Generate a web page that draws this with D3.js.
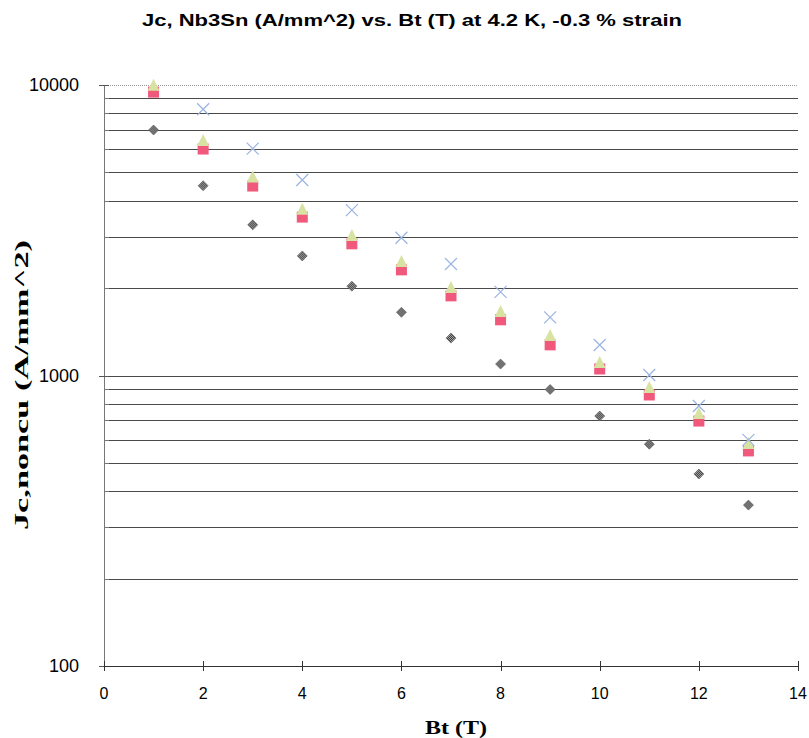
<!DOCTYPE html>
<html>
<head>
<meta charset="utf-8">
<script src="https://cdn.jsdelivr.net/npm/d3@7"></script>
<style>
  body { margin: 0; background: #fff; }
</style>
</head>
<body>
<div id="chart"></div>
<script>
// data
var bt = [1, 2, 3, 4, 5, 6, 7, 8, 9, 10, 11, 12, 13];
var jcDiamond = [7000, 4500, 3300, 2580, 2030, 1650, 1345, 1095, 895, 725, 580, 458, 358];
var jcSquare = [9450, 6020, 4490, 3510, 2840, 2310, 1880, 1555, 1275, 1053, 857, 697, 550];
var jcTriangle = [9950, 6420, 4800, 3720, 3020, 2460, 2000, 1655, 1368, 1104, 906, 737, 581];
var btCross = [2, 3, 4, 5, 6, 7, 8, 9, 10, 11, 12, 13];
var jcCross = [8250, 6040, 4710, 3710, 2980, 2420, 1940, 1586, 1273, 1004, 785, 600];
var xTicks = [0, 2, 4, 6, 8, 10, 12, 14];
var yMajor = [100, 1000, 10000];

var W = 809, H = 738;
var svg = d3.select('#chart').append('svg')
  .attr('width', W)
  .attr('height', H);

var x = d3.scaleLinear().domain([0, 14]).range([104, 798]);
var y = d3.scaleLog().domain([100, 10000]).range([666, 85]);

var sans = 'Liberation Sans, Arial, sans-serif';
var serif = 'Liberation Serif, Times New Roman, serif';

// checkered fill for the diamonds
var pat = svg.append('defs').append('pattern')
  .attr('id', 'check')
  .attr('width', 2).attr('height', 2)
  .attr('patternUnits', 'userSpaceOnUse');
pat.append('rect').attr('width', 2).attr('height', 2).attr('fill', '#b0b0b0');
pat.append('rect').attr('width', 1).attr('height', 1).attr('fill', '#333');
pat.append('rect').attr('x', 1).attr('y', 1).attr('width', 1).attr('height', 1).attr('fill', '#333');

// minor values for grid
var minor = [];
[100, 1000].forEach(function(d){
  for (var k = 2; k <= 9; k++) minor.push(d * k);
});

function py(d){ return Math.round(y(d)) + 0.5; }

// gridlines
svg.append('g').selectAll('line')
  .data(minor.concat([1000]))
  .enter().append('line')
  .attr('x1', x(0)).attr('x2', x(14))
  .attr('y1', py).attr('y2', py)
  .attr('stroke', '#4a4a4a')
  .attr('stroke-width', 1);

// top border (dotted)
svg.append('line')
  .attr('x1', x(0)).attr('x2', x(14))
  .attr('y1', py(10000)).attr('y2', py(10000))
  .attr('stroke', '#999')
  .attr('stroke-dasharray', '1,1');

// y axis
svg.append('line')
  .attr('x1', x(0) + 0.5).attr('x2', x(0) + 0.5)
  .attr('y1', y(10000)).attr('y2', y(100))
  .attr('stroke', '#777');
svg.append('g').selectAll('line')
  .data(minor)
  .enter().append('line')
  .attr('x1', x(0)).attr('x2', x(0) + 5)
  .attr('y1', py).attr('y2', py)
  .attr('stroke', '#777');
svg.append('g').selectAll('line')
  .data(yMajor)
  .enter().append('line')
  .attr('x1', x(0) - 5).attr('x2', x(0) + 5)
  .attr('y1', py).attr('y2', py)
  .attr('stroke', '#555');
svg.append('g').selectAll('text')
  .data(yMajor)
  .enter().append('text')
  .text(function(d){ return d; })
  .attr('x', 79)
  .attr('y', function(d){ return y(d); })
  .attr('dy', '0.36em')
  .attr('text-anchor', 'end')
  .attr('font-family', sans)
  .attr('font-size', '18px');

// x axis
svg.append('line')
  .attr('x1', x(0)).attr('x2', x(14))
  .attr('y1', py(100)).attr('y2', py(100))
  .attr('stroke', '#333');
svg.append('g').selectAll('line')
  .data(xTicks)
  .enter().append('line')
  .attr('x1', function(d){ return Math.round(x(d)) + 0.5; })
  .attr('x2', function(d){ return Math.round(x(d)) + 0.5; })
  .attr('y1', y(100) - 5).attr('y2', y(100) + 5)
  .attr('stroke', '#333');
svg.append('g').selectAll('text')
  .data(xTicks)
  .enter().append('text')
  .text(function(d){ return d; })
  .attr('x', function(d){ return x(d); })
  .attr('y', 699)
  .attr('text-anchor', 'middle')
  .attr('font-family', sans)
  .attr('font-size', '16px');

// titles
svg.append('text')
  .text('Jc, Nb3Sn (A/mm^2) vs. Bt (T) at 4.2 K, -0.3 % strain')
  .attr('x', 142).attr('y', 26)
  .attr('textLength', 540)
  .attr('lengthAdjust', 'spacingAndGlyphs')
  .attr('font-family', sans)
  .attr('font-weight', 'bold')
  .attr('font-size', '16px');
svg.append('text')
  .text('Bt (T)')
  .attr('x', 425).attr('y', 734)
  .attr('textLength', 62)
  .attr('lengthAdjust', 'spacingAndGlyphs')
  .attr('font-family', serif)
  .attr('font-weight', 'bold')
  .attr('font-size', '19px');
svg.append('text')
  .text('Jc,noncu (A/mm^2)')
  .attr('transform', 'translate(28,530) rotate(-90)')
  .attr('textLength', 290)
  .attr('lengthAdjust', 'spacingAndGlyphs')
  .attr('font-family', serif)
  .attr('font-weight', 'bold')
  .attr('font-size', '18px');

// series
var diamonds = bt.map(function(d, i){ return {x: d, y: jcDiamond[i]}; });
var squares = bt.map(function(d, i){ return {x: d, y: jcSquare[i]}; });
var triangles = bt.map(function(d, i){ return {x: d, y: jcTriangle[i]}; });
var crosses = btCross.map(function(d, i){ return {x: d, y: jcCross[i]}; });

svg.append('g').selectAll('path')
  .data(diamonds)
  .enter().append('path')
  .attr('d', 'M0,-5L5,0L0,5L-5,0Z')
  .attr('transform', function(d){ return 'translate(' + x(d.x) + ',' + y(d.y) + ')'; })
  .attr('fill', 'url(#check)')
  .attr('stroke', '#555')
  .attr('stroke-width', 0.6);

svg.append('g').selectAll('rect')
  .data(squares)
  .enter().append('rect')
  .attr('x', function(d){ return x(d.x) - 5.5; })
  .attr('y', function(d){ return y(d.y) - 5.5; })
  .attr('width', 11).attr('height', 11)
  .attr('fill', '#f0587c');

svg.append('g').selectAll('path')
  .data(triangles)
  .enter().append('path')
  .attr('d', 'M0,-7L6,5L-6,5Z')
  .attr('transform', function(d){ return 'translate(' + x(d.x) + ',' + y(d.y) + ')'; })
  .attr('fill', '#d8e2a2');

svg.append('g').selectAll('path')
  .data(crosses)
  .enter().append('path')
  .attr('d', 'M-6,-6L6,6M6,-6L-6,6')
  .attr('transform', function(d){ return 'translate(' + x(d.x) + ',' + y(d.y) + ')'; })
  .attr('fill', 'none')
  .attr('stroke', '#9bb4e0')
  .attr('stroke-width', 1.2);
</script>
</body>
</html>
